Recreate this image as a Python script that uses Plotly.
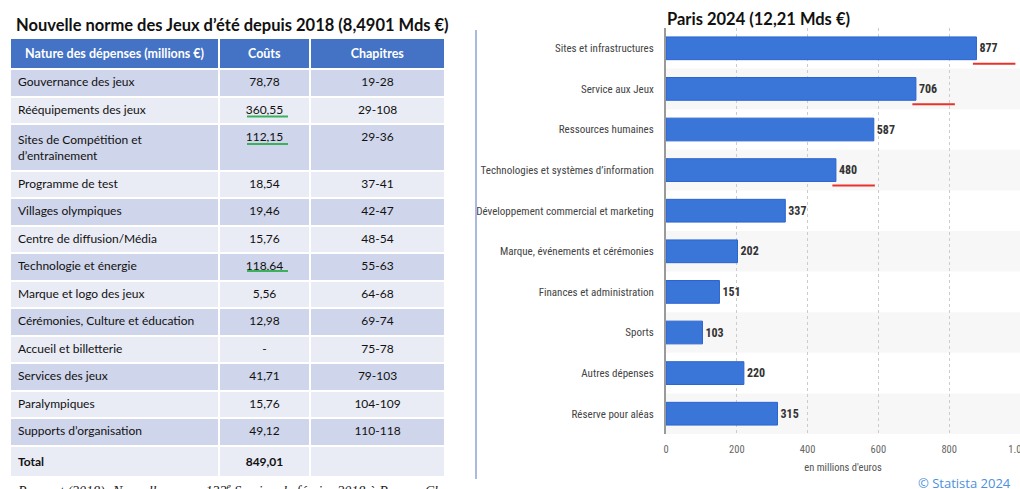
import plotly.graph_objects as go

W, H = 1020, 489

# ---- left table data (2018 norm) ----
postes = ["Gouvernance des jeux", "Rééquipements des jeux", "Sites de Compétition et<br>d’entraînement",
          "Programme de test", "Villages olympiques", "Centre de diffusion/Média",
          "Technologie et énergie", "Marque et logo des jeux", "Cérémonies, Culture et éducation",
          "Accueil et billetterie", "Services des jeux", "Paralympiques",
          "Supports d’organisation", "<b>Total</b>"]
couts = ["78,78", "360,55", "112,15", "18,54", "19,46", "15,76", "118,64", "5,56",
         "12,98", "-", "41,71", "15,76", "49,12", "<b>849,01</b>"]
chapitres = ["19-28", "29-108", "29-36", "37-41", "42-47", "48-54", "55-63", "64-68",
             "69-74", "75-78", "79-103", "104-109", "110-118", ""]
souligne_gauche = ["360,55", "112,15", "118,64"]

# ---- right chart data (Paris 2024) ----
categories = ["Sites et infrastructures", "Service aux Jeux", "Ressources humaines",
              "Technologies et systèmes d’information", "Développement commercial et marketing",
              "Marque, événements et cérémonies", "Finances et administration", "Sports",
              "Autres dépenses", "Réserve pour aléas"]
valeurs = [877, 706, 587, 480, 337, 202, 151, 103, 220, 315]
souligne_droite = ["Sites et infrastructures", "Service aux Jeux",
                   "Technologies et systèmes d’information"]
tick_vals = [0, 200, 400, 600, 800, 1000]
tick_text = ["0", "200", "400", "600", "800", "1.000"]

NARROW = "Roboto Condensed, Roboto, Liberation Sans"


def px(x):
    return x / W


def py(y):
    return 1 - y / H


fig = go.Figure()

dark, light = "#cfd5ea", "#e9ebf5"
row_fill = [dark if i % 2 == 0 else light for i in range(len(postes))]
HEAD_H, CELL_H = 31, 27.5

fig.add_trace(go.Table(
    domain=dict(x=[px(10), px(445)], y=[py(478), py(38)]),
    columnwidth=[209, 91, 135],
    header=dict(
        values=["<b>Nature des dépenses (millions €)</b>", "<b>Coûts</b>", "<b>Chapitres</b>"],
        fill_color="#4472c4", line=dict(color="white", width=2),
        font=dict(family="Lato", size=12.5, color="white"), align="center", height=HEAD_H),
    cells=dict(
        values=[postes, couts, chapitres],
        fill_color=[row_fill] * 3, line=dict(color="white", width=2),
        font=dict(family="Lato", size=12, color="#111"),
        align=["left", "center", "center"], height=CELL_H),
))

fig.add_trace(go.Bar(
    x=valeurs, y=categories, orientation="h",
    marker=dict(color="#3a76d8", line=dict(color="#2b63d0", width=1)),
    text=valeurs, textposition="outside", cliponaxis=False,
    textfont=dict(family=NARROW, size=12, color="#333", weight="bold"),
    hoverinfo="skip", showlegend=False,
))

shapes = []
# alternating grey bands behind the bar rows
for i in range(1, len(categories), 2):
    shapes.append(dict(type="rect", xref="x domain", yref="y", x0=0, x1=1,
                       y0=i - 0.5, y1=i + 0.5, fillcolor="#f7f7f7", line_width=0, layer="below"))
# red highlight lines under some values
for c in souligne_droite:
    i = categories.index(c)
    v = valeurs[i]
    shapes.append(dict(type="line", xref="x", yref="y", x0=v - 10, x1=v + 110,
                       y0=i + 0.38, y1=i + 0.38, line=dict(color="#e8322b", width=2)))
# green lines under some table costs
row_top = [38 + HEAD_H]
for p in postes:
    h = CELL_H + 17 if "<br>" in p else CELL_H
    row_top.append(row_top[-1] + h)
for c in souligne_gauche:
    i = couts.index(c)
    y = row_top[i] + 20
    shapes.append(dict(type="line", xref="paper", yref="paper", x0=px(247), x1=px(288),
                       y0=py(y), y1=py(y), line=dict(color="#3cb15a", width=2)))
# divider between the two panels
shapes.append(dict(type="line", xref="paper", yref="paper", x0=px(476), x1=px(476),
                   y0=py(30), y1=py(479), line=dict(color="#a9b9e2", width=2)))

annotations = [
    dict(text="<b>Nouvelle norme des Jeux d’été depuis 2018 (8,4901 Mds €)</b>",
         x=px(14), y=py(25), xref="paper", yref="paper", xanchor="left", yanchor="middle",
         showarrow=False, font=dict(family="Lato", size=16.5, color="#111")),
    dict(text="<b>Paris 2024 (12,21 Mds €)</b>",
         x=px(665), y=py(19), xref="paper", yref="paper", xanchor="left", yanchor="middle",
         showarrow=False, font=dict(family="Lato", size=16.5, color="#111")),
    dict(text="<i>Rapport (2018): Nouvelle norme 132<sup>e</sup> Session de février 2018 à Pyeong Chang</i>",
         x=px(15), y=py(479), xref="paper", yref="paper", xanchor="left", yanchor="top",
         showarrow=False, font=dict(family="Liberation Serif", size=14, color="#222")),
    dict(text="© Statista 2024",
         x=px(1013), y=py(483), xref="paper", yref="paper", xanchor="right", yanchor="middle",
         showarrow=False, font=dict(family="Open Sans", size=13, color="#4a8fe0")),
]

fig.update_layout(
    width=W, height=H, margin=dict(l=0, r=0, t=0, b=0, autoexpand=False),
    paper_bgcolor="white", plot_bgcolor="white",
    bargap=0.44, shapes=shapes, annotations=annotations,
    xaxis=dict(domain=[px(666), 1], range=[0, 1000], tickvals=tick_vals, ticktext=tick_text,
               showgrid=True, gridcolor="#cccccc", griddash="dot", gridwidth=1,
               zeroline=False, showline=False, ticks="", ticklabeloverflow="allow",
               ticklabelstandoff=7, automargin=False,
               tickfont=dict(family=NARROW, size=10.5, color="#666"),
               title=dict(text="en millions d'euros", standoff=9,
                          font=dict(family=NARROW, size=10.5, color="#555"))),
    yaxis=dict(domain=[py(434), py(28)], autorange="reversed", showgrid=False,
               showline=True, linecolor="#9a9a9a", linewidth=2, ticks="",
               ticklabelstandoff=8, automargin=False,
               tickfont=dict(family=NARROW, size=11, color="#444")),
)

fig.write_html("out.html", config={"displayModeBar": False},
               post_script="document.documentElement.style.overflow='hidden';"
                           "document.body.style.margin='0';document.body.style.overflow='hidden';")
